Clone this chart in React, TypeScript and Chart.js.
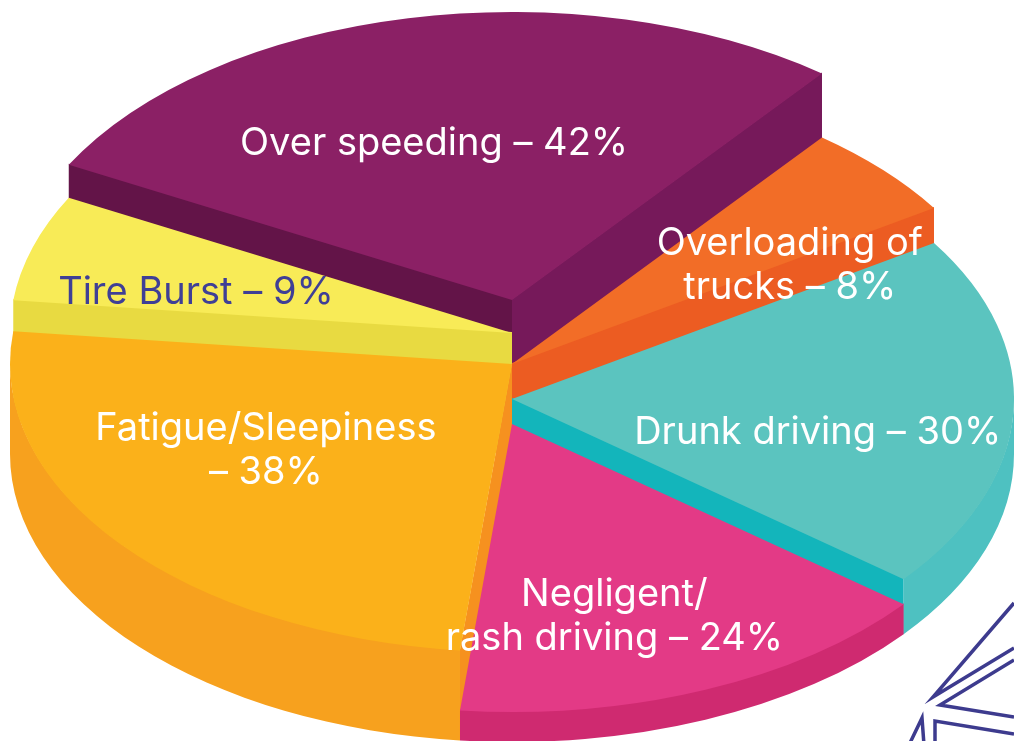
import React, { useEffect, useRef } from "react";
import { Chart, registerables } from "chart.js";

Chart.register(...registerables);

// ---------- data ----------
const categories = [
  "Over speeding",
  "Overloading of trucks",
  "Drunk driving",
  "Negligent/rash driving",
  "Fatigue/Sleepiness",
  "Tire Burst",
];
const percentages = [42, 8, 30, 24, 38, 9];
const labelLines = [
  ["Over speeding"],
  ["Overloading of", "trucks"],
  ["Drunk driving"],
  ["Negligent/", "rash driving"],
  ["Fatigue/Sleepiness", ""],
  ["Tire Burst"],
];

// ---------- styles ----------
const topColors = ["#8B2065", "#F26D27", "#5BC4BF", "#E33A86", "#FBB11A", "#F8EB57"];
const wallStartColors = ["#631448", "#EC5C22", "#13B5BB", "#CF2A70", "#F6911F", "#E8DA41"];
const wallEndColors = ["#76195A", "#EC5C22", "#13B5BB", "#CF2A70", "#F6911F", "#E8DA41"];
const outerWallColors = ["#76195A", "#EC5C22", "#4EC1C1", "#CF2A70", "#F7A11E", "#E8DA41"];
const labelColors = ["#FFFFFF", "#FFFFFF", "#FFFFFF", "#FFFFFF", "#FFFFFF", "#3F3F96"];
const sliceLift = [124, 60, 25, 0, 60, 91];
// [fraction along the slice angle, fraction of radius]
const labelAt = [
  [0.46, 0.565],
  [1.06, 0.65],
  [0.61, 0.62],
  [0.6, 0.7],
  [0.58, 0.575],
  [0.28, 0.645],
];
const BASE_DEPTH = 30;
const PIE_RX = 502;
const PIE_RY = 288;
const START_ROTATION = -62;
const FONT_SIZE = 38;
const LINE_H = 44;

function labelText(i: number): string[] {
  const lines = labelLines[i].slice();
  const n = lines.length - 1;
  lines[n] = (lines[n] ? lines[n] + " – " : "– ") + percentages[i] + "%";
  return lines;
}

const pie3dPlugin = {
  id: "pie3d",
  beforeDatasetsDraw(chart: any) {
    const ctx: CanvasRenderingContext2D = chart.ctx;
    const arcs: any[] = chart.getDatasetMeta(0).data;
    if (!arcs.length) return false;
    const R = arcs[0].outerRadius;
    const sx = PIE_RX / R;
    const sy = PIE_RY / R;
    const mid = (a: any) => (a.startAngle + a.endAngle) / 2;
    const order = arcs
      .map((_a, i) => i)
      .sort((i, j) => Math.sin(mid(arcs[i])) - Math.sin(mid(arcs[j])));

    for (const i of order) {
      const arc = arcs[i];
      const cx = arc.x;
      const yTop = arc.y - sliceLift[i];
      const yBot = arc.y + BASE_DEPTH;
      const s = arc.startAngle;
      const e = arc.endAngle;
      const pt = (th: number, y: number) => [cx + PIE_RX * Math.cos(th), y + PIE_RY * Math.sin(th)];
      const wall = (th: number, color: string) => {
        const [x1, y1] = pt(th, yTop - 1);
        const [x2, y2] = pt(th, yBot);
        ctx.beginPath();
        ctx.moveTo(cx, yTop - 1);
        ctx.lineTo(x1, y1);
        ctx.lineTo(x2, y2);
        ctx.lineTo(cx, yBot);
        ctx.closePath();
        ctx.fillStyle = color;
        ctx.fill();
      };
      if (Math.cos(s) < 0) wall(s, wallStartColors[i]);
      if (Math.cos(e) > 0) wall(e, wallEndColors[i]);
      for (let k = -1; k <= 1; k++) {
        const lo = Math.max(s, 2 * Math.PI * k);
        const hi = Math.min(e, 2 * Math.PI * k + Math.PI);
        if (hi > lo) {
          ctx.beginPath();
          ctx.ellipse(cx, yTop - 1, PIE_RX, PIE_RY, 0, lo, hi);
          ctx.ellipse(cx, yBot, PIE_RX, PIE_RY, 0, hi, lo, true);
          ctx.closePath();
          ctx.fillStyle = outerWallColors[i];
          ctx.fill();
        }
      }
      ctx.save();
      ctx.translate(cx, yTop);
      ctx.scale(sx, sy);
      ctx.translate(-arc.x, -arc.y);
      arc.draw(ctx);
      ctx.restore();
    }
    return false;
  },
  afterDraw(chart: any) {
    const ctx: CanvasRenderingContext2D = chart.ctx;
    const arcs: any[] = chart.getDatasetMeta(0).data;
    ctx.save();
    ctx.font = `400 ${FONT_SIZE}px Inter, "Noto Sans", sans-serif`;
    ctx.textAlign = "center";
    ctx.textBaseline = "middle";
    arcs.forEach((arc, i) => {
      const [t, f] = labelAt[i];
      const th = arc.startAngle + t * (arc.endAngle - arc.startAngle);
      const x = arc.x + PIE_RX * f * Math.cos(th);
      const y = arc.y - sliceLift[i] + PIE_RY * f * Math.sin(th);
      const lines = labelText(i);
      ctx.fillStyle = labelColors[i];
      lines.forEach((ln, k) => ctx.fillText(ln, x, y + (k - (lines.length - 1) / 2) * LINE_H));
    });
    ctx.restore();

    // decorative line art in the lower-right corner
    ctx.save();
    ctx.strokeStyle = "#3D3B8E";
    ctx.lineWidth = 3.5;
    ctx.lineJoin = "miter";
    const segs = [
      [[1014, 603], [933, 697], [1014, 648]],
      [[1014, 660], [940, 705], [1014, 717]],
      [[1014, 734], [935, 721], [935, 745]],
      [[909, 745], [922, 718], [924, 745]],
    ];
    segs.forEach((pts) => {
      ctx.beginPath();
      ctx.moveTo(pts[0][0], pts[0][1]);
      for (let k = 1; k < pts.length; k++) ctx.lineTo(pts[k][0], pts[k][1]);
      ctx.stroke();
    });
    ctx.restore();
  },
};

export default function App() {
  const ref = useRef<HTMLCanvasElement>(null);
  useEffect(() => {
    const chart = new Chart(ref.current as HTMLCanvasElement, {
      type: "pie",
      data: {
        labels: categories,
        datasets: [
          {
            data: percentages,
            backgroundColor: topColors,
            borderWidth: 0,
            hoverOffset: 0,
          },
        ],
      },
      options: {
        responsive: false,
        animation: false,
        rotation: START_ROTATION,
        events: [],
        layout: { padding: { left: 10, right: 0, top: 107, bottom: 0 } },
        plugins: { legend: { display: false }, tooltip: { enabled: false } },
      },
      plugins: [pie3dPlugin],
    } as any);
    return () => chart.destroy();
  }, []);
  return (
    <div style={{ position: "fixed", left: 0, top: 0, width: 1014, height: 741, background: "#fff", overflow: "hidden" }}>
      <canvas ref={ref} width={1014} height={741} style={{ display: "block" }} />
    </div>
  );
}
